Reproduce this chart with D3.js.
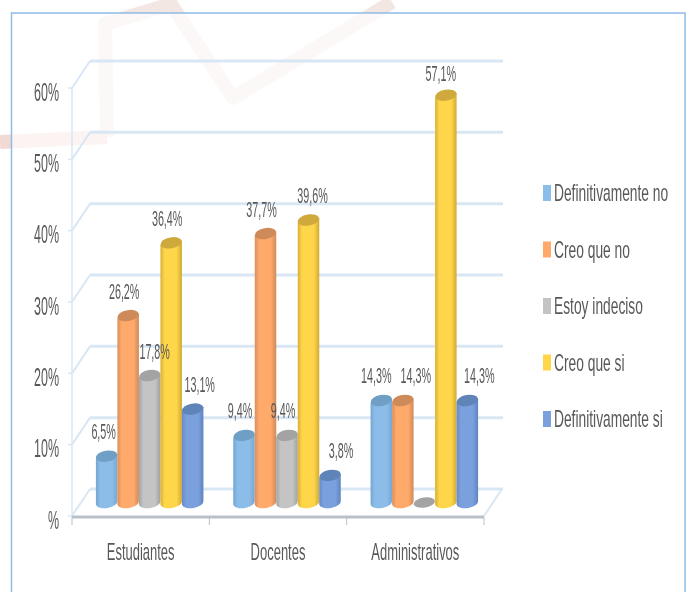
<!DOCTYPE html>
<html>
<head>
<meta charset="utf-8">
<script src="https://cdn.jsdelivr.net/npm/d3@7"></script>
<style>
  html, body { margin: 0; padding: 0; background: #fff; overflow: hidden; }
  text { font-family: "Liberation Sans Narrow", "Liberation Sans", sans-serif; fill: #595959; }
  .axis path, .axis line { display: none; }
</style>
</head>
<body>
<div id="chart"></div>
<script>
// data
var categories = ["Estudiantes", "Docentes", "Administrativos"];
var seriesNames = ["Definitivamente no", "Creo que no", "Estoy indeciso", "Creo que si", "Definitivamente si"];
var estudiantes = [6.5, 26.2, 17.8, 36.4, 13.1];
var docentes = [9.4, 37.7, 9.4, 39.6, 3.8];
var administrativos = [14.3, 14.3, 0, 57.1, 14.3];
var yTicks = [0, 10, 20, 30, 40, 50, 60];
var yTickLabels = ["%", "10%", "20%", "30%", "40%", "50%", "60%"];
var seriesValues = [estudiantes, docentes, administrativos];

// colours: side shading [edge, light, dark edge], cap
var colours = [
  {edge: "#74a6d3", light: "#8cbde9", dark: "#76a6d2", cap: "#6f9fc6"},
  {edge: "#d98f5c", light: "#ffa96a", dark: "#cf8a58", cap: "#cf8a5a"},
  {edge: "#a3a3a3", light: "#c4c4c4", dark: "#a0a0a0", cap: "#a3a3a3"},
  {edge: "#d8b036", light: "#ffd54a", dark: "#d0a932", cap: "#cfa93a"},
  {edge: "#658bc8", light: "#7aa0de", dark: "#5f84be", cap: "#5f84b8"}
];

// label nudges, labels in the source are placed by hand
var labelNudge = [
  [-3, -4, 5, -4, 7],
  [-4, -4, -4, 4, 11],
  [-5, 13, 0, -5, 12]
];
var labelDrop = [
  [0, 0, 0, 0, 0],
  [0, 0, 0, 0, 0],
  [0, 0, 0, 3, 0]
];

var width = 691;
var height = 592;
var depthX = 18;
var depthY = 27;

var svg = d3.select("#chart")
            .append("svg")
              .attr("width", width)
              .attr("height", height);

var defs = svg.append("defs");

defs.append("filter")
      .attr("id", "soft")
    .append("feGaussianBlur")
      .attr("stdDeviation", 0.6);

colours.forEach(function(c, i) {
  var grad = defs.append("linearGradient").attr("id", "cyl" + i);
  grad.append("stop").attr("offset", "0%").attr("stop-color", c.edge);
  grad.append("stop").attr("offset", "20%").attr("stop-color", c.light);
  grad.append("stop").attr("offset", "75%").attr("stop-color", c.light);
  grad.append("stop").attr("offset", "100%").attr("stop-color", c.dark);
});

var root = svg.append("g").attr("filter", "url(#soft)");

// squeeze text horizontally around its anchor, the source picture was stretched
function squeeze(selection, factor) {
  selection.each(function() {
    var ax = +this.getAttribute("x") || 0;
    d3.select(this)
      .attr("transform", "translate(" + ax + ",0) scale(" + factor + ",1) translate(" + (-ax) + ",0)");
  });
}

// watermark behind the frame, pinker on the left stub
root.append("polyline")
      .attr("points", "107,137 105,24 171,4 233,98 392,2")
      .attr("fill", "none")
      .attr("stroke", "#f3e7e4")
      .attr("stroke-width", 14)
      .attr("stroke-linejoin", "round");

root.append("polyline")
      .attr("points", "0,142 107,137")
      .attr("fill", "none")
      .attr("stroke", "#f3d9d5")
      .attr("stroke-width", 14);

// frame
root.append("rect")
      .attr("x", 11.5)
      .attr("y", 13)
      .attr("width", 673.5)
      .attr("height", 600)
      .attr("fill", "#fff")
      .attr("fill-opacity", 0.7)
      .attr("stroke", "#8fbce6")
      .attr("stroke-width", 1.5);

// scales
var x0 = d3.scaleBand()
           .domain(categories)
           .range([72, 484])
           .paddingInner(0.217)
           .paddingOuter(0.1085);

var x1 = d3.scaleBand()
           .domain(seriesNames)
           .range([0, x0.bandwidth()]);

var yScale = d3.scaleLinear()
               .domain([0, 60])
               .range([516, 88]);

// grid: back wall lines, side wall diagonals
var grid = root.append("g").attr("class", "grid");

grid.selectAll(".back")
    .data(yTicks)
    .enter()
   .append("line")
    .attr("x1", 72 + depthX)
    .attr("x2", 484 + depthX + 1)
    .attr("y1", function(d) { return yScale(d) - depthY; })
    .attr("y2", function(d) { return yScale(d) - depthY; })
    .attr("stroke", "#d9e7f5")
    .attr("stroke-width", 3);

grid.selectAll(".side")
    .data(yTicks)
    .enter()
   .append("line")
    .attr("x1", 72)
    .attr("x2", 72 + depthX)
    .attr("y1", function(d) { return yScale(d); })
    .attr("y2", function(d) { return yScale(d) - depthY; })
    .attr("stroke", "#d9e7f5")
    .attr("stroke-width", 2);

grid.append("line")
    .attr("x1", 484)
    .attr("x2", 484 + depthX)
    .attr("y1", yScale(0))
    .attr("y2", yScale(0) - depthY)
    .attr("stroke", "#d9e7f5")
    .attr("stroke-width", 2);

grid.append("line")
    .attr("x1", 72)
    .attr("x2", 72)
    .attr("y1", yScale(60))
    .attr("y2", yScale(0))
    .attr("stroke", "#d9e7f5")
    .attr("stroke-width", 1.5);

grid.selectAll(".ytick")
    .data(yTicks)
    .enter()
   .append("line")
    .attr("x1", 68)
    .attr("x2", 72)
    .attr("y1", function(d) { return yScale(d); })
    .attr("y2", function(d) { return yScale(d); })
    .attr("stroke", "#d9e7f5")
    .attr("stroke-width", 1.5);

// floor front edge and category ticks
grid.append("line")
    .attr("x1", 72)
    .attr("x2", 484)
    .attr("y1", yScale(0) + 1)
    .attr("y2", yScale(0) + 1)
    .attr("stroke", "#b9c0c8")
    .attr("stroke-width", 3);

grid.selectAll(".xtick")
    .data(d3.range(categories.length + 1))
    .enter()
   .append("line")
    .attr("x1", function(i) { return 72 + i * x0.step(); })
    .attr("x2", function(i) { return 72 + i * x0.step(); })
    .attr("y1", yScale(0) + 1)
    .attr("y2", yScale(0) + 9)
    .attr("stroke", "#b9c0c8")
    .attr("stroke-width", 1);

// axes, only the text is kept
var yAxis = d3.axisLeft(yScale)
              .tickValues(yTicks)
              .tickFormat(function(d, i) { return yTickLabels[i]; })
              .tickSize(0)
              .tickPadding(13);

var xAxis = d3.axisBottom(x0).tickSize(0).tickPadding(28);

root.append("g")
      .attr("class", "axis y-axis")
      .attr("transform", "translate(72,0)")
      .call(yAxis)
    .selectAll("text")
      .style("font-size", "26px")
      .attr("dy", "0.47em")
      .call(squeeze, 0.48);

root.append("g")
      .attr("class", "axis x-axis")
      .attr("transform", "translate(0,516)")
      .call(xAxis)
    .selectAll("text")
      .style("font-size", "23px")
      .call(squeeze, 0.565);

// cylinders
var rx = x1.bandwidth() / 2;
var ry = 5.5;
var tilt = 2;

function sidePath(left, top, base) {
  var right = left + 2 * rx;
  return "M" + left + "," + (top + tilt) +
         "L" + left + "," + (base + tilt) +
         "A" + rx + "," + ry + " -10 0 0 " + right + "," + (base - tilt) +
         "L" + right + "," + (top - tilt) + "Z";
}

var groups = root.selectAll(".group")
                 .data(categories)
                 .enter()
                .append("g")
                 .attr("class", "group")
                 .attr("transform", function(d) {
                   return "translate(" + (x0(d) + depthX / 2) + "," + (-depthY / 2) + ")";
                 });

groups.each(function(cat, c) {
  var g = d3.select(this);

  seriesNames.forEach(function(name, s) {
    var v = seriesValues[c][s];
    var left = x1(name);
    var top = yScale(v);

    if (v > 0) {
      g.append("path")
        .attr("d", sidePath(left, top, yScale(0)))
        .attr("fill", "url(#cyl" + s + ")");
    }

    g.append("ellipse")
      .attr("transform", "translate(" + (left + rx) + "," + top + ") rotate(-10)")
      .attr("rx", rx)
      .attr("ry", v > 0 ? ry : 5)
      .attr("fill", colours[s].cap);
  });
});

// value labels, the empty bar has none
groups.each(function(cat, c) {
  var g = d3.select(this);

  seriesNames.forEach(function(name, s) {
    var v = seriesValues[c][s];
    if (v === 0) { return; }

    g.append("text")
      .attr("x", x1(name) + rx + labelNudge[c][s])
      .attr("y", yScale(v) - 17 + labelDrop[c][s])
      .attr("text-anchor", "middle")
      .style("font-size", "22px")
      .text(v.toFixed(1).replace(".", ",") + "%")
      .call(squeeze, 0.49);
  });
});

// legend
var legendY = d3.scalePoint()
                .domain(seriesNames)
                .range([193, 419]);

var legend = root.selectAll(".legend-group")
                 .data(seriesNames)
                 .enter()
                .append("g")
                 .attr("class", "legend-group")
                 .attr("transform", function(d) {
                   return "translate(543," + legendY(d) + ")";
                 });

legend.append("rect")
      .attr("y", -8)
      .attr("width", 8)
      .attr("height", 16)
      .attr("fill", function(d, i) { return colours[i].light; });

legend.append("text")
      .attr("x", 11)
      .attr("y", 8)
      .style("font-size", "23px")
      .text(function(d) { return d; })
      .call(squeeze, 0.6);
</script>
</body>
</html>
